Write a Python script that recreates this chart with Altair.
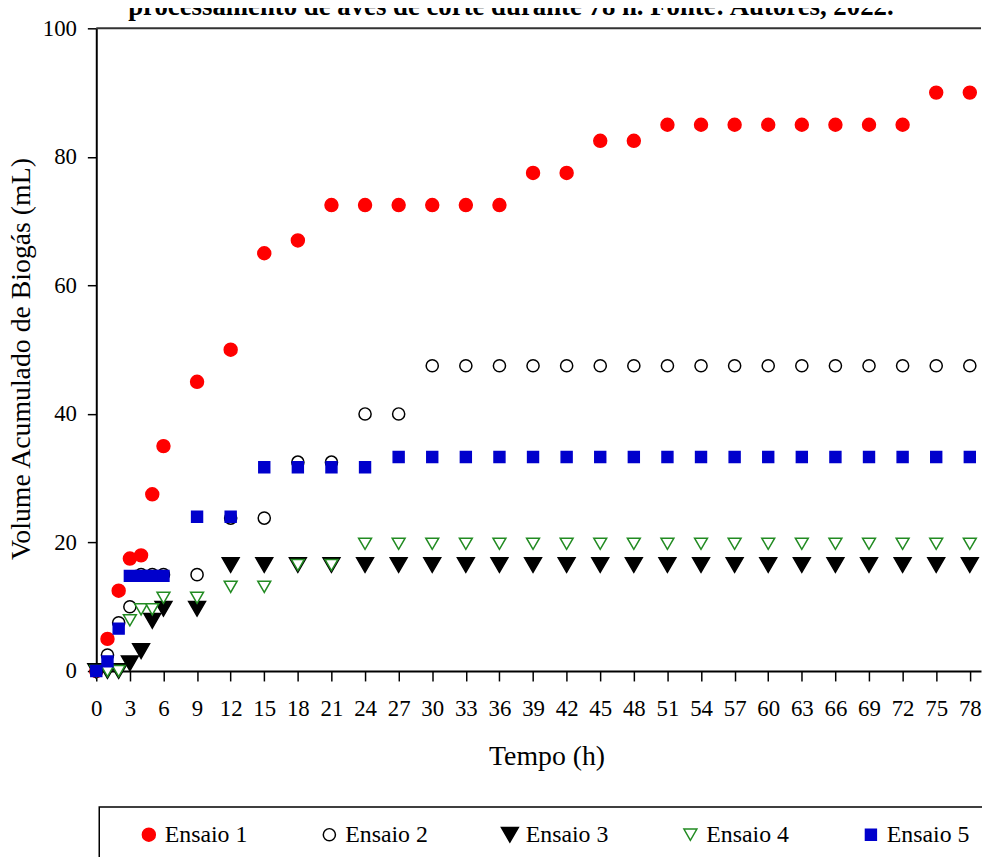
import altair as alt
import pandas as pd

TITLE = "processamento de aves de corte durante 78 h. Fonte: Autores, 2022."
X_TITLE = "Tempo (h)"
Y_TITLE = "Volume Acumulado de Biogás (mL)"

tempo = [0, 1, 2, 3, 4, 5, 6, 9, 12, 15, 18, 21, 24, 27, 30, 33, 36, 39, 42,
         45, 48, 51, 54, 57, 60, 63, 66, 69, 72, 75, 78]

x_ticks = [0, 3, 6, 9, 12, 15, 18, 21, 24, 27, 30, 33, 36, 39, 42, 45, 48, 51,
           54, 57, 60, 63, 66, 69, 72, 75, 78]
y_ticks = [0, 20, 40, 60, 80, 100]

series_names = ["Ensaio 1", "Ensaio 2", "Ensaio 3", "Ensaio 4", "Ensaio 5"]

ensaio1 = [0, 5, 12.5, 17.5, 18, 27.5, 35, 45, 50, 65, 67, 72.5, 72.5, 72.5,
           72.5, 72.5, 72.5, 77.5, 77.5, 82.5, 82.5, 85, 85, 85, 85, 85, 85, 85,
           85, 90, 90]
ensaio2 = [0, 2.5, 7.5, 10, 15, 15, 15, 15, 23.8, 23.8, 32.5, 32.5, 40, 40,
           47.5, 47.5, 47.5, 47.5, 47.5, 47.5, 47.5, 47.5, 47.5, 47.5, 47.5,
           47.5, 47.5, 47.5, 47.5, 47.5, 47.5]
ensaio3 = [0, 0, 0, 1.2, 3.1, 7.8, 9.7, 9.7, 16.5, 16.5, 16.5, 16.5, 16.5, 16.5,
           16.5, 16.5, 16.5, 16.5, 16.5, 16.5, 16.5, 16.5, 16.5, 16.5, 16.5,
           16.5, 16.5, 16.5, 16.5, 16.5, 16.5]
ensaio4 = [0, 0, 0, 7.9, 9.6, 9.6, 11.4, 11.4, 13.1, 13.1, 16.5, 16.5, 19.8,
           19.8, 19.8, 19.8, 19.8, 19.8, 19.8, 19.8, 19.8, 19.8, 19.8, 19.8,
           19.8, 19.8, 19.8, 19.8, 19.8, 19.8, 19.8]
ensaio5 = [0, 1.5, 6.6, 14.8, 14.8, 14.8, 14.8, 24, 24, 31.7, 31.7, 31.7, 31.7,
           33.3, 33.3, 33.3, 33.3, 33.3, 33.3, 33.3, 33.3, 33.3, 33.3, 33.3,
           33.3, 33.3, 33.3, 33.3, 33.3, 33.3, 33.3]

shapes = ["circle", "circle", "triangle-down", "triangle-down", "square"]
strokes = ["#ff0000", "#000000", "#000000", "#228b22", "#0000cc"]
fills = ["#ff0000", "#ffffff", "#000000", "#ffffff", "#0000cc"]
sizes = [170, 150, 290, 170, 121]

x_domain = [0, 79]
y_domain = [0, 100]

rows = []
for name, vals in zip(series_names, [ensaio1, ensaio2, ensaio3, ensaio4, ensaio5]):
    for t, v in zip(tempo, vals):
        rows.append({"Tempo": t, "Volume": v, "Serie": name})
df = pd.DataFrame(rows)

FONT = "Liberation Serif"

x_scale = alt.Scale(domain=x_domain, nice=False, zero=False)
y_scale = alt.Scale(domain=y_domain, nice=False)
x_axis = alt.Axis(values=x_ticks, title=X_TITLE, grid=False,
                  labelOverlap=False, labelFlush=False,
                  tickSize=10, labelPadding=17,
                  titleX=454, titleY=86, titleBaseline="middle",
                  titleAlign="center")
y_axis = alt.Axis(values=y_ticks, title=Y_TITLE, grid=False,
                  labelOverlap=False, labelFlush=False,
                  tickSize=9, labelPadding=11,
                  titleX=-75, titleY=333, titleAngle=270,
                  titleBaseline="middle", titleAlign="center")

leg = alt.Legend(title=None)

points = alt.Chart(df).mark_point(
    filled=False, strokeWidth=1.5, opacity=1, fillOpacity=1
).encode(
    x=alt.X("Tempo:Q", scale=x_scale, axis=x_axis),
    y=alt.Y("Volume:Q", scale=y_scale, axis=y_axis),
    shape=alt.Shape("Serie:N", scale=alt.Scale(domain=series_names, range=shapes), legend=leg),
    color=alt.Color("Serie:N", scale=alt.Scale(domain=series_names, range=strokes), legend=leg),
    fill=alt.Fill("Serie:N", scale=alt.Scale(domain=series_names, range=fills), legend=leg),
    size=alt.Size("Serie:N", scale=alt.Scale(type="ordinal", domain=series_names, range=sizes),
                  legend=None),
)

frame_df = pd.DataFrame({"x0": [x_domain[0]], "x1": [x_domain[1]], "yv": [y_domain[1]]})
top_rule = alt.Chart(frame_df).mark_rule(
    color="#333333", strokeWidth=2
).encode(
    x=alt.X("x0:Q", scale=x_scale, axis=x_axis),
    x2="x1:Q",
    y=alt.Y("yv:Q", scale=y_scale, axis=y_axis),
)

title_text = alt.Chart(pd.DataFrame({"t": [TITLE]})).mark_text(
    font=FONT, fontSize=27, fontWeight="bold", align="center",
    baseline="alphabetic", color="black"
).encode(text="t:N", x=alt.value(418), y=alt.value(-13))

chart = alt.layer(points, top_rule, title_text).properties(
    width=892, height=648,
    autosize=alt.AutoSizeParams(type="none"),
    padding={"left": 89, "top": 17, "right": 1, "bottom": 184},
).configure_view(
    strokeWidth=0
).configure_axis(
    labelFont=FONT, labelFontSize=23, labelColor="black",
    titleFont=FONT, titleFontSize=28, titleFontWeight="normal", titleColor="black",
    domainColor="black", domainWidth=2, tickColor="black", tickWidth=1.5,
).configure_legend(
    orient="none", legendX=3, legendY=785, direction="horizontal", columns=5,
    strokeColor="black", strokeWidth=1.5, padding=16,
    labelFont=FONT, labelFontSize=24, labelColor="black",
    symbolOffset=22, labelOffset=4, columnPadding=48,
    symbolSize=90, symbolStrokeWidth=1.5,
)

chart.save("out.html", embed_options={"renderer": "svg", "actions": False})
